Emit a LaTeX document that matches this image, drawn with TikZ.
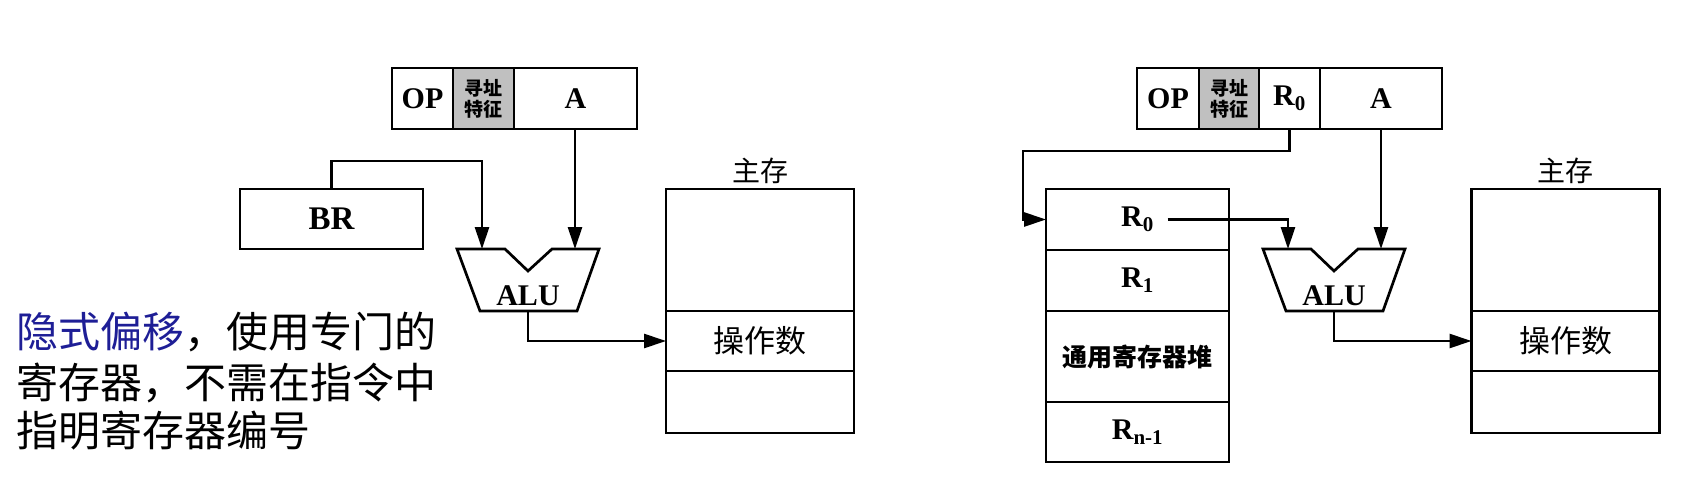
\documentclass[tikz,border=0pt]{standalone}
\usepackage{fontspec}
\setmainfont{Liberation Serif}
\newfontfamily\cjk{Noto Sans CJK SC}
\usetikzlibrary{positioning,arrows.meta}
\definecolor{fieldgray}{RGB}{192,192,192}
\definecolor{keyblue}{RGB}{30,30,150}

\begin{document}
\begin{tikzpicture}[x=1pt,y=-1pt,line width=2.7pt]
    \tikzset{cell/.style={draw,inner sep=0pt,outer sep=0pt,font=\fontsize{30}{32}\selectfont\bfseries},
        field/.style={cell,minimum height=61pt},
        mode/.style={field,fill=fieldgray,align=center,font=\cjk\bfseries\fontsize{19}{21}\selectfont},
        memcell/.style={cell,minimum width=188pt,font=\cjk\fontsize{31}{33}\selectfont},
        regcell/.style={cell,minimum width=183pt},
        arr/.style={-{Triangle[length=22pt,width=14pt]}},
        pics/alu/.style={code={
            \draw (-71,0) -- (-23,0) -- (0,22) -- (24,0) -- (71,0) -- (49,62) -- (-48,62) -- cycle;
            \coordinate (-in1) at (-46,0);
            \coordinate (-in2) at (47,0);
            \coordinate (-out) at (0,62);
            \node[font=\fontsize{30}{32}\selectfont\bfseries] (-lbl) at (0,47) {ALU};}}}
    \useasboundingbox (0,0) rectangle (1692,490);

    % left: implicit base register
    \node[field,minimum width=61pt] (opL) at (422.5,98.5) {OP};
    \node[mode,minimum width=61pt,right=0pt of opL] (modeL) {寻址\\特征};
    \node[field,minimum width=123pt,right=0pt of modeL] (aL) {A};
    \node[cell,minimum width=183pt,minimum height=60pt,font=\fontsize{33}{35}\selectfont\bfseries] (br) at (331.5,219) {BR};
    \pic (aluL) at (528,249) {alu};
    \node[memcell,minimum height=122pt] (memLtop) at (760,250) {};
    \node[memcell,minimum height=60pt,below=0pt of memLtop] (memLop) {操作数};
    \node[memcell,minimum height=62pt,below=0pt of memLop] (memLbot) {};
    \node[font=\cjk\fontsize{28}{30}\selectfont,above=1pt of memLtop] (memLlbl) {主存};
    \draw[arr] (br.north) -- ++(0,-28) -| (aluL-in1);
    \draw[arr] (aluL-in2 |- aL.south) -- (aluL-in2);
    \draw[arr] (aluL-out) |- (memLop.west);

    \node[anchor=west,inner sep=0pt,font=\cjk\fontsize{42}{50}\selectfont] (note1) at (15,332) {\textcolor{keyblue}{隐式偏移}，使用专门的};
    \node[anchor=west,inner sep=0pt,font=\cjk\fontsize{42}{50}\selectfont] (note2) at (15,383) {寄存器，不需在指令中};
    \node[anchor=west,inner sep=0pt,font=\cjk\fontsize{42}{50}\selectfont] (note3) at (15,431) {指明寄存器编号};

    % right: register given in the instruction
    \node[field,minimum width=62pt] (opR) at (1168,98.5) {OP};
    \node[mode,minimum width=60pt,right=0pt of opR] (modeR) {寻址\\特征};
    \node[field,minimum width=61pt,right=0pt of modeR] (r0f) {R\textsubscript{0}};
    \node[field,minimum width=122pt,right=0pt of r0f] (aR) {A};
    \node[regcell,minimum height=61pt] (r0) at (1137.5,219.5) {R\textsubscript{0}};
    \node[regcell,minimum height=61pt,below=0pt of r0] (r1) {R\textsubscript{1}};
    \node[regcell,minimum height=91pt,below=0pt of r1,font=\cjk\bfseries\fontsize{25}{27}\selectfont] (rheap) {通用寄存器堆};
    \node[regcell,minimum height=60pt,below=0pt of rheap] (rn) {R\textsubscript{n-1}};
    \pic (aluR) at (1334,249) {alu};
    \node[memcell,minimum height=122pt] (memRtop) at (1565.5,250) {};
    \node[memcell,minimum height=60pt,below=0pt of memRtop] (memRop) {操作数};
    \node[memcell,minimum height=62pt,below=0pt of memRop] (memRbot) {};
    \node[font=\cjk\fontsize{28}{30}\selectfont,above=1pt of memRtop] (memRlbl) {主存};
    \draw[arr] (r0f.south) -- ++(0,22) -| ([xshift=-23pt]r0.west) -- (r0.west);
    \draw[arr] ([xshift=30pt]r0.center) -| (aluR-in1);
    \draw[arr] (aluR-in2 |- aR.south) -- (aluR-in2);
    \draw[arr] (aluR-out) |- (memRop.west);
\end{tikzpicture}
\end{document}
